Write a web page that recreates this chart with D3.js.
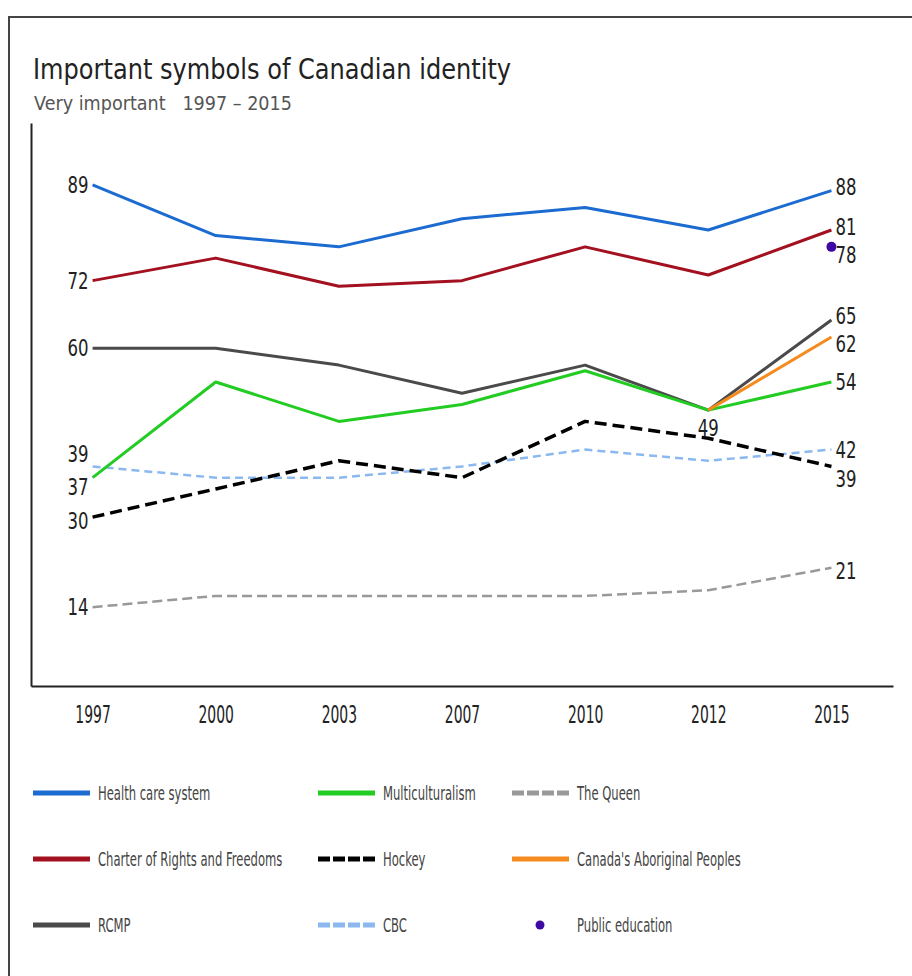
<!DOCTYPE html>
<head>
  <meta charset="utf-8">
  <script src="https://d3js.org/d3.v7.min.js"></script>
  <style type="text/css">
    body { margin: 0; background: #fff; }
    svg text { font-family: "DejaVu Sans", sans-serif; }
    .x--axis text { font-size: 24px; fill: #222; }
    .x--axis path, .y--axis path { stroke: #222; stroke-width: 2; }
    .vlabel { font-size: 23px; fill: #222; }
    .legend text { font-size: 20px; fill: #444; }
  </style>
</head>

<body>
  <script type="text/javascript">
    // values
    var years = ["1997", "2000", "2003", "2007", "2010", "2012", "2015"];
    var healthCare = [89, 80, 78, 83, 85, 81, 88];
    var charter = [72, 76, 71, 72, 78, 73, 81];
    var rcmp = [60, 60, 57, 52, 57, 49, 65];
    var multiculturalism = [37, 54, 47, 50, 56, 49, 54];
    var hockey = [30, 35, 40, 37, 47, 44, 39];
    var cbc = [39, 37, 37, 39, 42, 40, 42];
    var queen = [14, 16, 16, 16, 16, 17, 21];
    var aboriginal = [null, null, null, null, null, 49, 62];
    var publicEducation = [null, null, null, null, null, null, 78];

    var width = 912, height = 976;

    // squeeze text horizontally, the original uses a condensed face
    function condense(sel, f) {
      sel.each(function() {
        var t = d3.select(this);
        var x = +t.attr("x") || 0, y = +t.attr("y") || 0;
        t.attr("x", 0).attr("y", 0)
          .attr("transform", "translate(" + x + "," + y + ") scale(" + f + ",1)");
      });
    }

    var svg = d3.select("body").append("svg")
      .attr("width", width)
      .attr("height", height);

    // frame (top and left edges only visible)
    svg.append("path")
      .attr("d", "M9," + (height + 5) + "V17H" + (width + 5))
      .attr("fill", "none")
      .attr("stroke", "#444")
      .attr("stroke-width", 2);

    svg.append("text")
      .attr("x", 33).attr("y", 79)
      .style("font-size", "28px")
      .style("fill", "#222")
      .text("Important symbols of Canadian identity")
      .call(condense, 0.86);

    svg.append("text")
      .attr("x", 34).attr("y", 110)
      .style("font-size", "20px")
      .style("fill", "#555")
      .attr("xml:space", "preserve")
      .text("Very important   1997 \u2013 2015")
      .call(condense, 0.88);

    var xScale = d3.scalePoint().domain(years).range([31, 893]).padding(0.5);
    var yScale = d3.scaleLinear().domain([0, 100]).range([686, 123]);

    svg.append("g")
      .attr("class", "y--axis")
      .attr("transform", "translate(31,0)")
      .call(d3.axisLeft(yScale).tickValues([]).tickSizeOuter(0));

    svg.append("g")
      .attr("class", "x--axis")
      .attr("transform", "translate(0," + yScale(0) + ")")
      .call(d3.axisBottom(xScale).tickSize(0).tickSizeOuter(0).tickPadding(20))
      .selectAll("text").call(condense, 0.58);

    var styles = {
      "Health care system": { color: "#1b6bd0", width: 3, dash: null },
      "Charter of Rights and Freedoms": { color: "#a3101f", width: 3, dash: null },
      "RCMP": { color: "#4a4a4a", width: 3, dash: null },
      "Multiculturalism": { color: "#22cc22", width: 3, dash: null },
      "Hockey": { color: "#000", width: 3.5, dash: "12,6" },
      "CBC": { color: "#8bb8ef", width: 2.5, dash: "8,5" },
      "The Queen": { color: "#999", width: 2.5, dash: "10,5" },
      "Canada's Aboriginal Peoples": { color: "#f58a1f", width: 3, dash: null },
      "Public education": { color: "#3d0aa6", width: 0, dash: null }
    };

    var values = {
      "Health care system": healthCare,
      "Charter of Rights and Freedoms": charter,
      "RCMP": rcmp,
      "Multiculturalism": multiculturalism,
      "Hockey": hockey,
      "CBC": cbc,
      "The Queen": queen,
      "Canada's Aboriginal Peoples": aboriginal,
      "Public education": publicEducation
    };

    var line = d3.line()
      .defined(function(d) { return d != null; })
      .x(function(d, i) { return xScale(years[i]); })
      .y(function(d) { return yScale(d); });

    var drawOrder = ["The Queen", "CBC", "Hockey", "RCMP", "Multiculturalism",
      "Canada's Aboriginal Peoples", "Charter of Rights and Freedoms", "Health care system"];

    drawOrder.forEach(function(name) {
      var s = styles[name];
      svg.append("path")
        .datum(values[name])
        .attr("d", line)
        .attr("fill", "none")
        .attr("stroke", s.color)
        .attr("stroke-width", s.width)
        .attr("stroke-dasharray", s.dash)
        .attr("stroke-linejoin", "round");
    });

    var last = years.length - 1;
    svg.append("circle")
      .attr("cx", xScale(years[last]))
      .attr("cy", yScale(publicEducation[last]))
      .attr("r", 5)
      .attr("fill", styles["Public education"].color);

    // value labels: [series, year index, side, vertical nudge]
    var labelSpots = [
      ["Health care system", 0, "left", 0], ["Charter of Rights and Freedoms", 0, "left", 0],
      ["RCMP", 0, "left", 0], ["CBC", 0, "left", -12], ["Multiculturalism", 0, "left", 9],
      ["Hockey", 0, "left", 4], ["The Queen", 0, "left", 0],
      ["Health care system", 6, "right", -4], ["Charter of Rights and Freedoms", 6, "right", -3],
      ["Public education", 6, "right", 8], ["RCMP", 6, "right", -4],
      ["Canada's Aboriginal Peoples", 6, "right", 7], ["Multiculturalism", 6, "right", 0],
      ["CBC", 6, "right", 0], ["Hockey", 6, "right", 13], ["The Queen", 6, "right", 3],
      ["RCMP", 5, "below", 18]
    ];

    svg.append("g").selectAll("text")
      .data(labelSpots)
      .enter().append("text")
      .attr("class", "vlabel")
      .attr("x", function(d) {
        var x = xScale(years[d[1]]);
        return d[2] === "left" ? x - 4 : d[2] === "right" ? x + 4 : x;
      })
      .attr("y", function(d) { return yScale(values[d[0]][d[1]]) + d[3]; })
      .attr("dy", "0.35em")
      .attr("text-anchor", function(d) { return d[2] === "left" ? "end" : d[2] === "right" ? "start" : "middle"; })
      .text(function(d) { return values[d[0]][d[1]]; })
      .call(condense, 0.72);

    // legend, 3 columns by row
    var legendOrder = ["Health care system", "Multiculturalism", "The Queen",
      "Charter of Rights and Freedoms", "Hockey", "Canada's Aboriginal Peoples",
      "RCMP", "CBC", "Public education"];
    var colX = [33, 318, 512], rowY = [793, 859, 925];

    var legend = svg.append("g").attr("class", "legend")
      .selectAll("g")
      .data(legendOrder)
      .enter().append("g")
      .attr("transform", function(d, i) { return "translate(" + colX[i % 3] + "," + rowY[Math.floor(i / 3)] + ")"; });

    legend.each(function(name) {
      var g = d3.select(this), s = styles[name];
      if (name === "Public education") {
        g.append("circle").attr("cx", 28).attr("cy", 0).attr("r", 4.5).attr("fill", s.color);
      } else {
        g.append("line")
          .attr("x1", 0).attr("x2", 57)
          .attr("stroke", s.color)
          .attr("stroke-width", 5)
          .attr("stroke-dasharray", s.dash ? "12,3" : null);
      }
      g.append("text")
        .attr("x", 65)
        .attr("dy", "0.35em")
        .text(name)
        .call(condense, 0.58);
    });
  </script>
</body>
